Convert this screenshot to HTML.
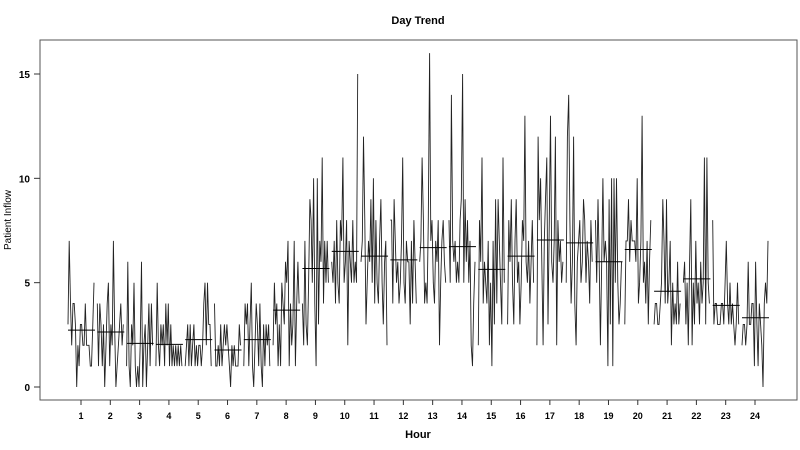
<!DOCTYPE html>
<html><head><meta charset="utf-8"><style>
body{margin:0;background:#fff;}
svg{display:block;font-family:"Liberation Sans",Arial,sans-serif;}
</style></head><body>
<svg id="chart" width="800" height="450">
<text x="418" y="24" text-anchor="middle" font-size="11" font-weight="bold">Day Trend</text>
<text transform="translate(11,220) rotate(-90)" text-anchor="middle" font-size="10">Patient Inflow</text>
<text x="418" y="438" text-anchor="middle" font-size="11" font-weight="bold">Hour</text>
<rect x="40" y="40" width="757" height="360" fill="none" stroke="#555" stroke-width="1"/>
<g id="marks"></g>
</svg>
<script>
const hours=[1,2,3,4,5,6,7,8,9,10,11,12,13,14,15,16,17,18,19,20,21,22,23,24];
const yTicks=[0,5,10,15];
const series=[
[3,7,4,2,4,4,3,0,2,1,3,3,2,2,4,2,2,2,1,1,3,5],
[4,1,4,3,1,3,0,2,4,5,1,3,2,7,3,0,1,2,3,4,2,3],
[1,6,1,0,3,2,5,1,0,1,0,2,6,0,2,3,0,2,4,1,4,2],
[1,5,2,1,3,2,3,1,4,2,4,1,3,1,2,1,2,1,2,1,2,1],
[1,2,3,1,3,1,2,3,1,2,1,2,2,1,2,4,5,2,5,3,3,1],
[4,1,1,2,1,3,1,2,3,2,3,2,1,0,2,1,2,1,1,1,3,2],
[1,4,3,4,1,3,5,1,0,2,4,3,1,4,1,0,3,1,3,2,3,1],
[2,5,3,4,1,3,1,5,4,3,6,5,7,1,4,2,3,7,1,4,6,4],
[4,2,7,3,2,5,9,8,5,10,4,1,10,3,7,6,11,4,7,5,7,5],
[6,5,7,4,8,5,4,8,7,11,5,6,8,2,7,6,5,8,5,6,5,15],
[6,7,12,8,3,5,7,6,9,5,10,4,8,5,4,7,9,5,3,6,7,2],
[8,8,4,9,7,5,6,4,5,7,11,5,4,7,6,6,3,7,4,8,6,4],
[6,7,11,8,4,5,4,8,16,7,8,5,4,7,6,8,2,5,7,8,6,5],
[8,5,14,7,6,7,5,6,5,8,9,15,5,9,6,8,5,7,2,1,4,6],
[2,8,6,11,4,6,5,4,7,2,5,1,7,3,9,4,9,7,5,3,11,5],
[3,8,6,9,5,3,7,9,5,6,3,5,8,7,13,6,5,7,4,6,8,5],
[2,12,8,10,6,2,7,9,11,3,8,13,6,5,7,12,2,8,6,7,5,6],
[5,12,14,8,4,6,12,4,2,6,7,8,5,6,9,8,5,7,6,4,8,6],
[8,5,9,6,2,6,10,6,7,6,1,9,3,10,1,10,5,10,5,3,4,6],
[3,7,7,9,6,8,7,7,7,6,10,4,5,7,13,5,6,4,7,3,6,8],
[3,4,4,3,3,4,5,9,7,4,9,4,5,7,2,5,3,4,3,6,3,4],
[5,6,3,5,2,6,9,2,5,3,7,4,5,3,6,4,5,11,3,11,5,4],
[8,3,4,4,3,3,3,4,4,3,5,7,4,3,5,3,4,3,2,3,5,3],
[2,3,3,2,3,6,3,3,4,4,1,6,3,1,4,3,2,0,4,5,4,7]
];
const NS='http://www.w3.org/2000/svg';
const g=document.getElementById('marks');
const xScale=h=>81+(h-1)*(755-81)/23;
const yScale=v=>387-v*(387-74)/15;
function mk(tag,attrs){const e=document.createElementNS(NS,tag);for(const k in attrs)e.setAttribute(k,attrs[k]);g.appendChild(e);return e;}
yTicks.forEach(t=>{
  const l=mk('line',{x1:34,x2:40,y1:yScale(t),y2:yScale(t),stroke:'#333'});
  
  
  const tx=mk('text',{x:30,y:yScale(t)+4,'text-anchor':'end','font-size':10,'font-weight':'bold'});
  tx.textContent=t;
  
  
});
hours.forEach((h,i)=>{
  const cx=xScale(h);
  const l=mk('line',{x1:cx,x2:cx,y1:400,y2:405,stroke:'#333'});
  
  
  const tx=mk('text',{x:cx,y:419,'text-anchor':'middle','font-size':9,'font-weight':'bold'});
  tx.textContent=h;
  
  
  const vals=series[i];const n=vals.length;
  const pts=vals.map((v,j)=>(cx-13+26*j/(n-1)).toFixed(1)+','+yScale(v).toFixed(1)).join(' ');
  const p=mk('polyline',{points:pts,fill:'none',stroke:'#222','stroke-width':0.9});
  
  
  const mean=vals.reduce((a,b)=>a+b,0)/n;
  const m=mk('line',{x1:cx-13,x2:cx+14,y1:yScale(mean),y2:yScale(mean),stroke:'#000','stroke-width':1});
  
  
});
</script>
</body></html>
